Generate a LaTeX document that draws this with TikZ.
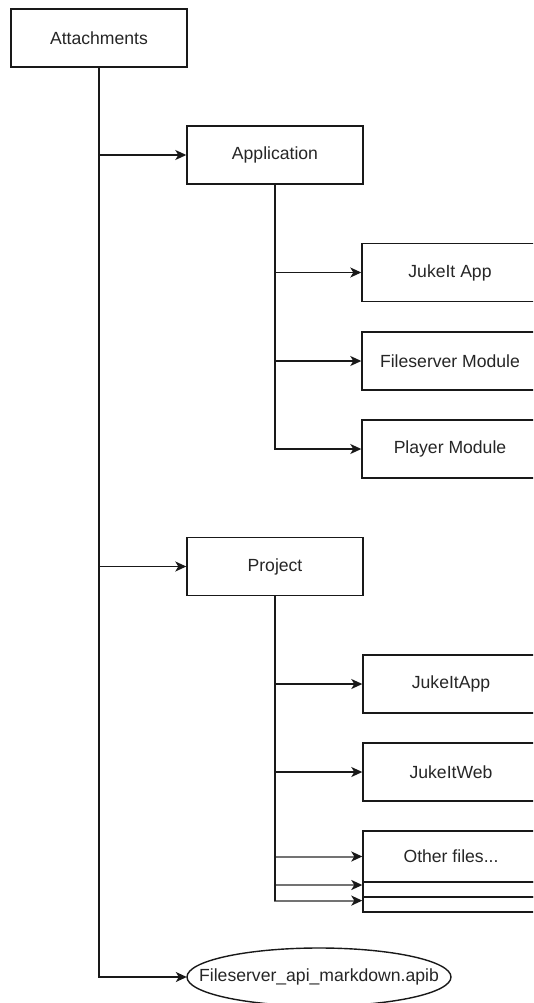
\documentclass[tikz,border=0pt]{standalone}
\usepackage{fontspec}
\setmainfont{Liberation Sans}
\usetikzlibrary{arrows.meta}
\begin{document}
\begin{tikzpicture}[x=1pt,y=-1pt,
  lbl/.style={font=\fontsize{17.6pt}{20pt}\selectfont, text=black!85},
  box/.style={lbl, draw=black!90, line width=1.4pt, minimum width=176pt, minimum height=58pt, inner sep=0pt},
  ellbox/.style={lbl, minimum width=264pt, minimum height=58pt, inner sep=0pt},
  conn/.style={draw=black!90, line width=1.4pt},
  arr/.style={conn, -{Stealth[length=11pt,width=10pt,inset=3pt]}},
  garr/.style={draw=black!55, line width=2pt, -{Stealth[length=11pt,width=10pt,inset=3pt,color=black!90]}},
]
\clip (0,0) rectangle (533,1003);
\fill[white] (0,0) rectangle (533,1003);

\node[box] (att) at (99,38) {Attachments};
\node[box] (app) at (275,155) {Application};
\node[box] (jka) at (450,272.5) {JukeIt App};
\node[box] (fsm) at (450,361) {Fileserver Module};
\node[box] (plm) at (450,449) {Player Module};
\node[box] (prj) at (275,566.5) {Project};
\node[box] (jkapp) at (451,684) {JukeItApp};
\node[box] (jkweb) at (451,772) {JukeItWeb};
\node[box, minimum height=51pt] (oth) at (451,856.5) {Other files...};
\node[box, minimum height=15pt] (o2) at (451,889.5) {};
\node[box, minimum height=15pt] (o3) at (451,904.5) {};
\node[ellbox] (api) at (319,977) {Fileserver\_api\_markdown.apib};
\draw[conn] (api.center) ellipse [x radius=132pt, y radius=29pt];

\coordinate (o2in) at ([yshift=4.5pt]o2.west);
\coordinate (o3in) at ([yshift=3.9pt]o3.west);

% main trunk
\draw[arr] (att.south) |- (app.west);
\draw[arr] (att.south) |- (prj.west);
\draw[arr] (att.south) |- (api.west);

% application branch
\draw[arr] (app.south) |- (jka.west);
\draw[arr] (app.south) |- (fsm.west);
\draw[arr] (app.south) |- (plm.west);

% project branch
\draw[garr] (prj.south) |- (oth.west);
\draw[garr] (prj.south) |- (o2in);
\draw[garr] (prj.south) |- (o3in);
\draw[conn] (prj.south) -- (prj.south |- o3in);
\draw[arr] (prj.south) |- (jkapp.west);
\draw[arr] (prj.south) |- (jkweb.west);
\end{tikzpicture}
\end{document}
